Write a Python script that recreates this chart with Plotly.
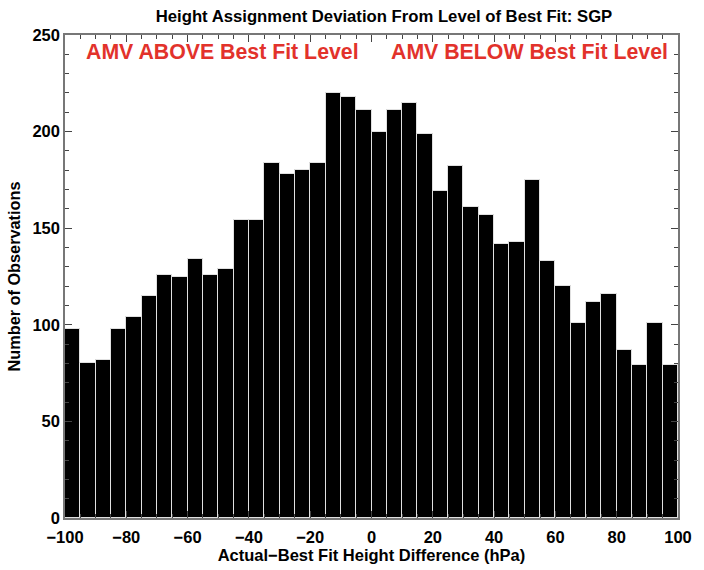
import plotly.graph_objects as go

bin_centers = [-97.5 + 5 * i for i in range(40)]
counts = [98, 80, 82, 98, 104, 115, 126, 125, 134, 126,
          129, 154, 154, 184, 178, 180, 184, 220, 218, 211,
          200, 211, 215, 199, 169, 182, 161, 157, 142, 143,
          175, 133, 120, 101, 112, 116, 87, 79, 101, 79]
x_ticks = [-100, -80, -60, -40, -20, 0, 20, 40, 60, 80, 100]
y_ticks = [0, 50, 100, 150, 200, 250]

FONT = "Liberation Sans"
RED = "#e2322b"

fig = go.Figure()
fig.add_trace(go.Bar(
    x=bin_centers, y=counts, width=5,
    marker=dict(color="black", line=dict(color="#e0e0e0", width=1)),
))

axis_common = dict(
    showline=True, linecolor="#777777", linewidth=1.5, mirror="ticks",
    ticks="inside", ticklen=7, tickwidth=1, tickcolor="#444444",
    showgrid=False, zeroline=False,
    tickfont=dict(family=FONT, size=16.5, color="black", weight="bold"),
)

fig.update_xaxes(
    range=[-100, 100], tickvals=x_ticks, ticklabelstandoff=3,
    minor=dict(ticks="inside", ticklen=4, dtick=5, tick0=0, tickcolor="#444444", showgrid=False),
    title=dict(text="Actual\u2212Best Fit Height Difference (hPa)", standoff=1,
               font=dict(family=FONT, size=16.5, color="black", weight="bold")),
    **axis_common,
)
fig.update_yaxes(
    range=[0, 250], tickvals=y_ticks,
    minor=dict(ticks="inside", ticklen=4, dtick=10, tick0=0, tickcolor="#444444", showgrid=False),
    title=dict(text="Number of Observations", standoff=8,
               font=dict(family=FONT, size=16.3, color="black", weight="bold")),
    **axis_common,
)

fig.add_annotation(x=-48.7, y=241, xref="x", yref="y", text="AMV ABOVE Best Fit Level",
                   showarrow=False, font=dict(family=FONT, size=21.3, color=RED, weight="bold"))
fig.add_annotation(x=51.6, y=241, xref="x", yref="y", text="AMV BELOW Best Fit Level",
                   showarrow=False, font=dict(family=FONT, size=21.3, color=RED, weight="bold"))

fig.update_layout(
    width=704, height=570,
    margin=dict(l=65, r=15, t=35, b=43),
    paper_bgcolor="white", plot_bgcolor="white",
    showlegend=False, bargap=0,
    title=dict(text="Height Assignment Deviation From Level of Best Fit: SGP",
               x=384 / 704, xanchor="center", y=1 - 16 / 570, yanchor="middle",
               font=dict(family=FONT, size=16.7, color="black", weight="bold")),
)

fig.write_html("out.html")
